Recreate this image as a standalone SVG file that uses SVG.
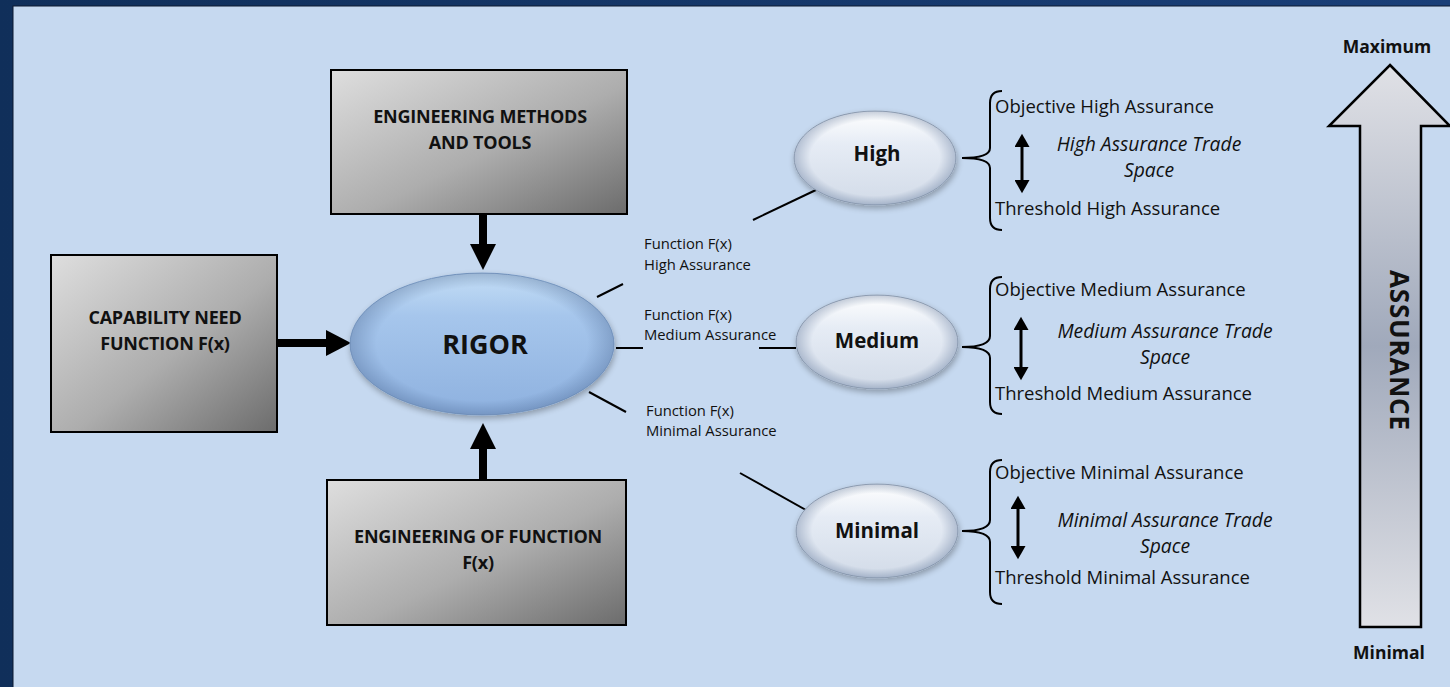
<svg xmlns="http://www.w3.org/2000/svg" width="1450" height="687" viewBox="0 0 1450 687">
  <defs>
    <linearGradient id="frame" x1="0" y1="0" x2="1" y2="0">
      <stop offset="0" stop-color="#102f5a"/>
      <stop offset="1" stop-color="#1a3f78"/>
    </linearGradient>
    <linearGradient id="boxFill" x1="0" y1="0" x2="1" y2="1">
      <stop offset="0" stop-color="#dedede"/>
      <stop offset="0.55" stop-color="#adadad"/>
      <stop offset="1" stop-color="#6c6c6c"/>
    </linearGradient>
    <linearGradient id="rigorFill" x1="0" y1="0" x2="0" y2="1">
      <stop offset="0" stop-color="#c4def6"/>
      <stop offset="0.3" stop-color="#a6c6ec"/>
      <stop offset="1" stop-color="#8eb1df"/>
    </linearGradient>
    <linearGradient id="levelFill" x1="0" y1="0" x2="0" y2="1">
      <stop offset="0" stop-color="#ffffff"/>
      <stop offset="0.35" stop-color="#e6ecf5"/>
      <stop offset="1" stop-color="#d2dbe8"/>
    </linearGradient>
    <radialGradient id="rim" cx="0.5" cy="0.5" r="0.5">
      <stop offset="0.8" stop-color="#3a5580" stop-opacity="0"/>
      <stop offset="1" stop-color="#3a5580" stop-opacity="0.3"/>
    </radialGradient>
    <linearGradient id="scaleFill" x1="0" y1="0" x2="0" y2="1">
      <stop offset="0" stop-color="#e0e1e6"/>
      <stop offset="0.5" stop-color="#a0a9bb"/>
      <stop offset="1" stop-color="#e0e1e6"/>
    </linearGradient>
    <filter id="shadow" x="-20%" y="-20%" width="140%" height="150%">
      <feGaussianBlur in="SourceAlpha" stdDeviation="3"/>
      <feOffset dx="1" dy="3"/>
      <feComponentTransfer><feFuncA type="linear" slope="0.3"/></feComponentTransfer>
      <feMerge><feMergeNode/><feMergeNode in="SourceGraphic"/></feMerge>
    </filter>
    <marker id="dblHead" markerWidth="5" markerHeight="5" refX="2" refY="2.5" orient="auto-start-reverse" markerUnits="strokeWidth">
      <path d="M0,0 L4.4,2.5 L0,5 Z" fill="#000"/>
    </marker>
  </defs>
  <style>
    .box { fill: url(#boxFill); stroke: #000; stroke-width: 2; }
    .boxText { font-family: "Open Sans", "Liberation Sans", sans-serif; font-weight: bold; font-size: 18px; fill: #111; text-anchor: middle; letter-spacing: -0.2px; }
    .level { fill: url(#levelFill); stroke: #9aa7b8; stroke-width: 1; }
    .rim { fill: url(#rim); stroke: none; }
    .levelText { font-family: "Open Sans", "Liberation Sans", sans-serif; font-weight: bold; font-size: 20.5px; fill: #111; text-anchor: middle; }
    .small { font-family: "Open Sans", "Liberation Sans", sans-serif; font-size: 14.8px; fill: #111; }
    .line { stroke: #000; stroke-width: 2; fill: none; }
    .thick { stroke: #000; stroke-width: 8; fill: none; }
    .brace { stroke: #000; stroke-width: 2; fill: none; }
    .rt { font-family: "Open Sans", "Liberation Sans", sans-serif; font-size: 18.5px; fill: #111; }
    .it { font-family: "Open Sans", "Liberation Sans", sans-serif; font-size: 19.3px; font-style: italic; fill: #111; text-anchor: middle; }
    .dbl { stroke: #000; stroke-width: 3; fill: none; marker-start: url(#dblHead); marker-end: url(#dblHead); }
    .scaleLabel { font-family: "Open Sans", "Liberation Sans", sans-serif; font-weight: bold; font-size: 17.5px; fill: #111; text-anchor: middle; }
  </style>

  <!-- page frame -->
  <rect x="0" y="0" width="1450" height="687" fill="url(#frame)"/>
  <rect x="13" y="6" width="1440" height="685" fill="#c6d9f0" stroke="#0c1a30" stroke-width="1"/>

  <!-- connectors -->
  <g id="connectors">
    <line class="thick" x1="277" y1="343" x2="330" y2="343"/>
    <path d="M326,330 L351,343 L326,356 Z"/>
    <line class="thick" x1="483" y1="214" x2="483" y2="248"/>
    <path d="M470,244 L483,270 L496,244 Z"/>
    <line class="thick" x1="483" y1="480" x2="483" y2="446"/>
    <path d="M470,449 L483,423 L496,449 Z"/>
    <line class="line" x1="597" y1="297" x2="623" y2="284"/>
    <line class="line" x1="753" y1="220" x2="818" y2="189"/>
    <line class="line" x1="616" y1="348" x2="643" y2="348"/>
    <line class="line" x1="759" y1="348" x2="796" y2="348"/>
    <line class="line" x1="589" y1="392" x2="626" y2="412"/>
    <line class="line" x1="740" y1="473" x2="806" y2="510"/>
  </g>

  <!-- inputs -->
  <g id="capability">
    <rect class="box" x="51" y="255" width="226" height="177"/>
    <text class="boxText" x="165" y="324">CAPABILITY NEED</text>
    <text class="boxText" x="165" y="350">FUNCTION F(x)</text>
  </g>
  <g id="methods">
    <rect class="box" x="331" y="70" width="296" height="144"/>
    <text class="boxText" x="480" y="123">ENGINEERING METHODS</text>
    <text class="boxText" x="480" y="149">AND TOOLS</text>
  </g>
  <g id="engineering">
    <rect class="box" x="327" y="480" width="299" height="145"/>
    <text class="boxText" x="478" y="543">ENGINEERING OF FUNCTION</text>
    <text class="boxText" x="478" y="569">F(x)</text>
  </g>

  <!-- center -->
  <g id="rigor">
    <ellipse cx="482" cy="344" rx="132" ry="71" fill="url(#rigorFill)" stroke="#7f9fc8" stroke-width="1" filter="url(#shadow)"/>
    <ellipse class="rim" cx="482" cy="344" rx="132" ry="71"/>
    <text x="485" y="354" font-family="'Open Sans', 'Liberation Sans', sans-serif" font-weight="bold" font-size="27" fill="#111" text-anchor="middle">RIGOR</text>
  </g>

  <!-- function labels -->
  <g id="labels">
    <text class="small" x="644" y="249">Function F(x)</text>
    <text class="small" x="644" y="270">High Assurance</text>
    <text class="small" x="644" y="320">Function F(x)</text>
    <text class="small" x="644" y="340">Medium Assurance</text>
    <text class="small" x="646" y="416">Function F(x)</text>
    <text class="small" x="646" y="436">Minimal Assurance</text>
  </g>

  <!-- assurance levels -->
  <g id="high">
    <ellipse class="level" cx="875" cy="158" rx="81" ry="47" filter="url(#shadow)"/>
    <ellipse class="rim" cx="875" cy="158" rx="81" ry="47"/>
    <text class="levelText" x="877" y="161">High</text>
    <path class="brace" d="M1002,91 Q990,91 990,103 V148 Q990,158 962,158 Q990,158 990,168 V218 Q990,230 1002,230"/>
    <text class="rt" x="995" y="113">Objective High Assurance</text>
    <text class="rt" x="995" y="215">Threshold High Assurance</text>
    <line class="dbl" x1="1022" y1="141" x2="1022" y2="186"/>
    <text class="it" x="1149" y="151">High Assurance Trade</text>
    <text class="it" x="1149" y="177">Space</text>
  </g>
  <g id="medium">
    <ellipse class="level" cx="877" cy="342" rx="81" ry="47" filter="url(#shadow)"/>
    <ellipse class="rim" cx="877" cy="342" rx="81" ry="47"/>
    <text class="levelText" x="877" y="348">Medium</text>
    <path class="brace" d="M1002,277 Q990,277 990,289 V336 Q990,347 962,347 Q990,347 990,358 V402 Q990,414 1002,414"/>
    <text class="rt" x="995" y="296">Objective Medium Assurance</text>
    <text class="rt" x="995" y="400">Threshold Medium Assurance</text>
    <line class="dbl" x1="1021" y1="324" x2="1021" y2="373"/>
    <text class="it" x="1165" y="338">Medium Assurance Trade</text>
    <text class="it" x="1165" y="364">Space</text>
  </g>
  <g id="minimal">
    <ellipse class="level" cx="877" cy="531" rx="81" ry="47" filter="url(#shadow)"/>
    <ellipse class="rim" cx="877" cy="531" rx="81" ry="47"/>
    <text class="levelText" x="877" y="538">Minimal</text>
    <path class="brace" d="M1002,460 Q990,460 990,472 V520 Q990,531 962,531 Q990,531 990,542 V592 Q990,604 1002,604"/>
    <text class="rt" x="995" y="479">Objective Minimal Assurance</text>
    <text class="rt" x="995" y="584">Threshold Minimal Assurance</text>
    <line class="dbl" x1="1018" y1="503" x2="1018" y2="552"/>
    <text class="it" x="1165" y="527">Minimal Assurance Trade</text>
    <text class="it" x="1165" y="553">Space</text>
  </g>

  <!-- assurance scale -->
  <g id="scale">
    <text class="scaleLabel" x="1387" y="53">Maximum</text>
    <path d="M1390,65 L1450,126 L1421,126 L1421,627 L1360,627 L1360,126 L1329,126 Z" fill="url(#scaleFill)" stroke="#000" stroke-width="2.5" stroke-linejoin="miter"/>
    <text transform="translate(1390,350) rotate(90)" font-family="'Open Sans', 'Liberation Sans', sans-serif" font-weight="bold" font-size="26" fill="#111" text-anchor="middle" textLength="160" lengthAdjust="spacing">ASSURANCE</text>
    <text class="scaleLabel" x="1389" y="659">Minimal</text>
  </g>
</svg>
